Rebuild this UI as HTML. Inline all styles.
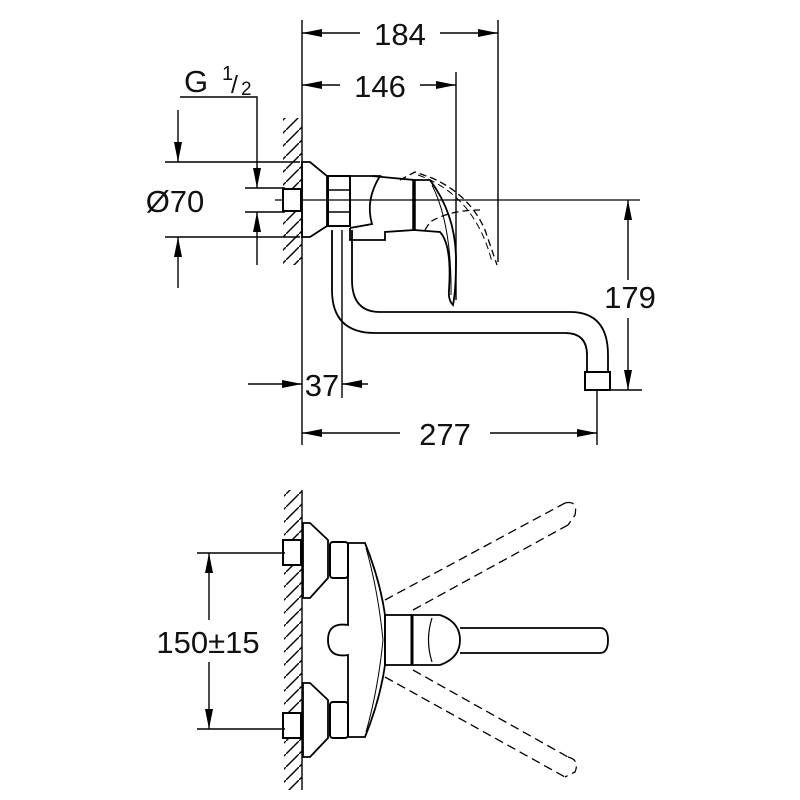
<!DOCTYPE html>
<html><head><meta charset="utf-8"><style>
html,body{margin:0;padding:0;background:#fff;}
svg{display:block}
text{font-family:"Liberation Sans",sans-serif;fill:#111}
</style></head><body>
<svg width="800" height="800" viewBox="0 0 800 800" xmlns="http://www.w3.org/2000/svg">
<defs>
<marker id="a" viewBox="0 0 20 8" refX="20" refY="4" markerWidth="20" markerHeight="8" markerUnits="userSpaceOnUse" orient="auto"><path d="M0,0 L20,4 L0,8 Z" fill="#000"/></marker>
<pattern id="h" width="13" height="13" patternUnits="userSpaceOnUse"><path d="M-1,14 L14,-1" stroke="#000" stroke-width="1.4"/></pattern>
</defs>
<g stroke="#000" fill="none" stroke-width="1.4">
<line x1="302" y1="20" x2="302" y2="445"/>
<rect x="283" y="118" width="19" height="147" fill="url(#h)" stroke="none"/>
<line x1="498" y1="20" x2="498" y2="262"/>
<line x1="360" y1="33" x2="302" y2="33" marker-end="url(#a)"/>
<line x1="440" y1="33" x2="498" y2="33" marker-end="url(#a)"/>
<line x1="456" y1="72" x2="456" y2="300"/>
<line x1="340" y1="85" x2="302" y2="85" marker-end="url(#a)"/>
<line x1="420" y1="85" x2="456" y2="85" marker-end="url(#a)"/>
<polyline points="180,97 257,97 257,120"/>
<line x1="257" y1="120" x2="257" y2="188" marker-end="url(#a)"/>
<line x1="257" y1="265" x2="257" y2="212" marker-end="url(#a)"/>
<line x1="165" y1="162" x2="300" y2="162"/>
<line x1="165" y1="237" x2="300" y2="237"/>
<line x1="245" y1="188" x2="285" y2="188"/>
<line x1="245" y1="212" x2="285" y2="212"/>
<line x1="178" y1="110" x2="178" y2="162" marker-end="url(#a)"/>
<line x1="178" y1="288" x2="178" y2="237" marker-end="url(#a)"/>
<line x1="275" y1="200" x2="640" y2="200" stroke-width="1.2"/>
<rect x="283" y="189" width="18" height="22" fill="#fff" stroke-width="2"/>
<polygon points="302,162 310,162 327,176 327,226 310,237 302,237" stroke-width="1.8"/>
<rect x="328" y="176" width="22" height="50" stroke-width="2"/>
<line x1="328" y1="190" x2="350" y2="190"/><line x1="328" y1="212" x2="350" y2="212"/>
<path d="M350,176 L380,176 Q365,200 372,224 L350,228" stroke-width="1.8"/>
<path d="M372,176 L414,180 L414,230 L385,232 L385,240 L350,240 L350,228" stroke-width="1.8"/>
<line x1="414" y1="180" x2="414" y2="230" stroke-width="3.5"/>
<path d="M414,180 L430,180 Q456,215 456,260 Q456,290 453,305 Q448,300 449,290 Q452,245 440,232 L414,230" stroke-width="1.8"/>
<path d="M432,185 Q452,225 451,295" stroke-width="1"/>
<path d="M400,180 L415,172 L432,178 Q470,195 485,230 L497,265 M425,230 L430,222 Q450,210 480,210" stroke-dasharray="7,4" stroke-width="1.3"/>
<path d="M418,175 Q475,195 492,262" stroke-dasharray="7,4" stroke-width="1"/>
<path d="M332,230 L332,290 Q332,333 375,333 L565,333 Q587,333 587,355 L587,372" stroke-width="1.8"/>
<path d="M352,230 L352,280 Q352,312 380,312 L570,312 Q608,312 608,355 L608,372" stroke-width="1.8"/>
<rect x="585" y="372" width="25" height="18" stroke-width="2"/>
<line x1="600" y1="390" x2="642" y2="390"/>
<line x1="628" y1="280" x2="628" y2="200" marker-end="url(#a)"/>
<line x1="628" y1="318" x2="628" y2="390" marker-end="url(#a)"/>
<line x1="342" y1="230" x2="342" y2="398"/>
<line x1="248" y1="384" x2="302" y2="384" marker-end="url(#a)"/>
<line x1="368" y1="384" x2="342" y2="384" marker-end="url(#a)"/>
<line x1="597" y1="390" x2="597" y2="445"/>
<line x1="400" y1="433" x2="302" y2="433" marker-end="url(#a)"/>
<line x1="490" y1="433" x2="597" y2="433" marker-end="url(#a)"/>

<line x1="302" y1="490" x2="302" y2="790"/>
<rect x="284" y="490" width="18" height="300" fill="url(#h)" stroke="none"/>
<rect x="283" y="540" width="18" height="25" fill="#fff" stroke-width="2"/>
<rect x="283" y="713" width="18" height="25" fill="#fff" stroke-width="2"/>
<polygon points="303,523 310,523 328,540 328,578 310,598 303,598" stroke-width="1.8"/>
<polygon points="303,683 310,683 328,700 328,738 310,757 303,757" stroke-width="1.8"/>
<rect x="330" y="542" width="18" height="36" rx="3" stroke-width="2"/>
<rect x="330" y="702" width="18" height="36" rx="3" stroke-width="2"/>
<path d="M348,543 L365,543 Q380,580 385,615 L385,665 Q380,700 365,737 L348,737 L348,655 Q328,658 328,640 Q328,622 348,625 Z" stroke-width="1.8"/>
<path d="M366,548 Q378,590 383,640 Q378,690 366,732" stroke-width="1"/>
<rect x="385" y="615" width="27" height="50" stroke-width="1.8"/>
<line x1="412" y1="615" x2="412" y2="665" stroke-width="3"/>
<path d="M412,615 L440,615 Q460,622 460,640 Q460,658 440,665 L412,665" stroke-width="1.8"/>
<path d="M432,618 Q425,640 432,662" stroke-width="1.2"/>
<path d="M460,628 L600,628 Q608,628 608,640 Q608,653 600,653 L460,653" stroke-width="1.8"/>
<g stroke-dasharray="9,5" stroke-width="1.3">
<line x1="385" y1="600" x2="565" y2="503"/>
<line x1="413" y1="610" x2="568" y2="525"/>
<path d="M565,503 Q578,500 575,515 L568,525"/>
<line x1="385" y1="677" x2="565" y2="777"/>
<line x1="413" y1="670" x2="568" y2="757"/>
<path d="M568,757 Q580,760 575,772 L565,777"/>
</g>
<line x1="197" y1="553" x2="285" y2="553"/>
<line x1="197" y1="729" x2="285" y2="729"/>
<line x1="209" y1="620" x2="209" y2="553" marker-end="url(#a)"/>
<line x1="209" y1="662" x2="209" y2="729" marker-end="url(#a)"/>
</g>
<g font-size="31">
<text x="400" y="45" text-anchor="middle">184</text>
<text x="380" y="97" text-anchor="middle">146</text>
<text x="184" y="92">G</text>
<text x="222" y="80" font-size="20">1</text>
<text x="231" y="93" font-size="25">/</text>
<text x="241" y="95" font-size="19">2</text>
<text x="175" y="212" text-anchor="middle">Ø70</text>
<text x="630" y="308" text-anchor="middle">179</text>
<text x="322" y="396" text-anchor="middle">37</text>
<text x="445" y="445" text-anchor="middle">277</text>
<text x="208" y="653" text-anchor="middle">150±15</text>
</g>
</svg>
</body></html>
